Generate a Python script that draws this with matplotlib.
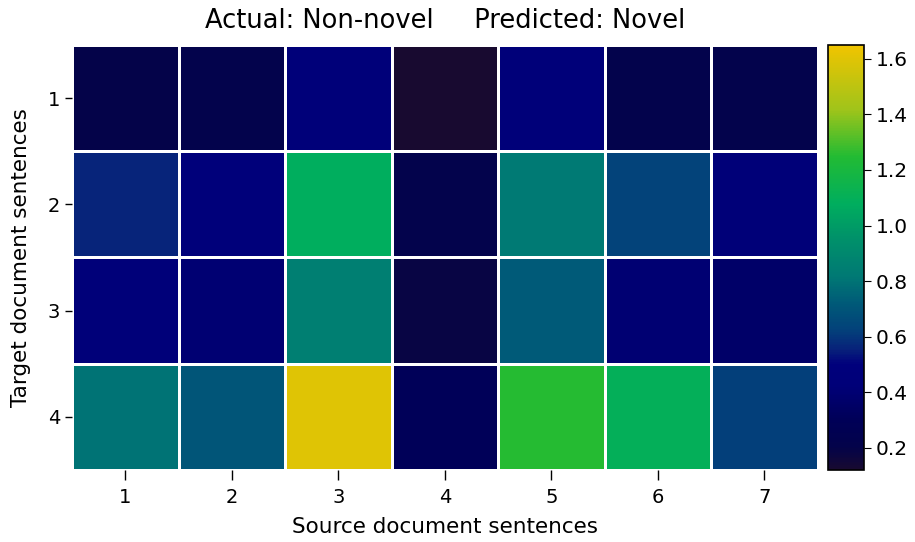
import numpy as np
import matplotlib
matplotlib.use("Agg")
import matplotlib.pyplot as plt
from matplotlib.colors import LinearSegmentedColormap

source_labels = ["1", "2", "3", "4", "5", "6", "7"]
target_labels = ["1", "2", "3", "4"]

row1 = [0.20, 0.22, 0.44, 0.12, 0.44, 0.22, 0.22]
row2 = [0.56, 0.46, 1.08, 0.22, 0.82, 0.63, 0.42]
row3 = [0.44, 0.40, 0.85, 0.18, 0.72, 0.40, 0.36]
row4 = [0.80, 0.70, 1.60, 0.30, 1.25, 1.10, 0.62]

scores = np.array([row1, row2, row3, row4])
vmin, vmax = 0.12, 1.65

# colour stops (value, colour)
stops = [
    (0.12, "#180a30"),
    (0.20, "#03034a"),
    (0.30, "#000058"),
    (0.42, "#000078"),
    (0.50, "#00007c"),
    (0.55, "#08207a"),
    (0.62, "#03407a"),
    (0.72, "#005a78"),
    (0.82, "#007a74"),
    (0.95, "#00906a"),
    (1.08, "#00ae5e"),
    (1.25, "#22bb33"),
    (1.42, "#a0c41a"),
    (1.65, "#f0c400"),
]
cmap = LinearSegmentedColormap.from_list(
    "nov", [((v - vmin) / (vmax - vmin), c) for v, c in stops])

fig = plt.figure(figsize=(9.15, 5.42), dpi=100)
ax = fig.add_axes([0.0787, 0.133, 0.815, 0.784])
cax = fig.add_axes([0.905, 0.133, 0.039, 0.784])

mesh = ax.pcolormesh(scores, cmap=cmap, vmin=vmin, vmax=vmax,
                     edgecolors="white", linewidth=2)
ax.set_xlim(0, 7)
ax.set_ylim(4, 0)
ax.set_xticks(np.arange(7) + 0.5)
ax.set_xticklabels(source_labels, fontsize=14)
ax.set_yticks(np.arange(4) + 0.5)
ax.set_yticklabels(target_labels, fontsize=14)
for s in ax.spines.values():
    s.set_visible(False)
ax.tick_params(axis="x", length=7, width=1, pad=6)
ax.tick_params(axis="y", length=5, width=1)
ax.set_xlabel("Source document sentences", fontsize=15.5, labelpad=7)
ax.set_ylabel("Target document sentences", fontsize=15.5, labelpad=12)
ax.set_title("Actual: Non-novel     Predicted: Novel", fontsize=18.5, pad=12)

cb = fig.colorbar(mesh, cax=cax)
cb.set_ticks([0.2, 0.4, 0.6, 0.8, 1.0, 1.2, 1.4, 1.6])
cb.ax.tick_params(labelsize=14.5, length=5)
cb.outline.set_linewidth(1.2)

fig.savefig("out.png", dpi=100)
